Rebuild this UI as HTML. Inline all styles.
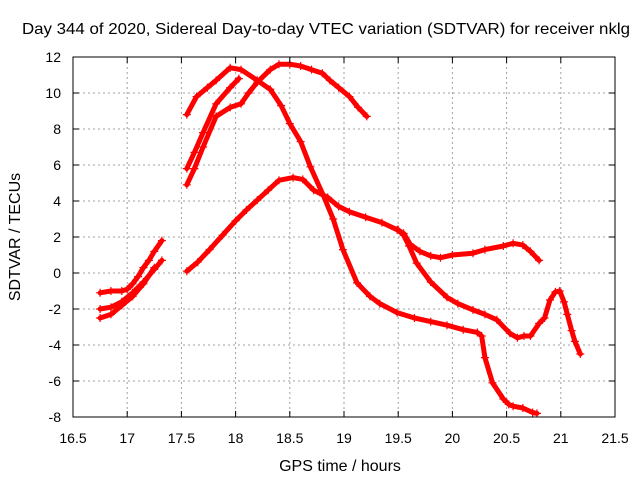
<!DOCTYPE html>
<html><head><meta charset="utf-8"><style>
body{margin:0;background:#fff;}
svg text{font-family:"Liberation Sans",sans-serif;fill:#000;}
</style></head><body>
<svg id="chart" width="640" height="480" xmlns="http://www.w3.org/2000/svg">
<rect width="640" height="480" fill="#fff"/>
<text x="22" y="34" font-size="16" textLength="608" lengthAdjust="spacingAndGlyphs">Day 344 of 2020, Sidereal Day-to-day VTEC variation (SDTVAR) for receiver nklg</text>
<text x="340" y="471" font-size="16" text-anchor="middle">GPS time / hours</text>
<text transform="translate(20,237) rotate(-90)" font-size="16" text-anchor="middle">SDTVAR / TECUs</text>
<g id="grid"></g><g id="series"></g><g id="axes"></g>
</svg>
<script>
const xTicks=[16.5,17,17.5,18,18.5,19,19.5,20,20.5,21,21.5];
const yTicks=[-8,-6,-4,-2,0,2,4,6,8,10,12];
const s1x=[17.55,17.65,17.76,17.88,18.0,18.1,18.2,18.3,18.4,18.53,18.62,18.72,18.85,18.95,19.05,19.2,19.35,19.49,19.55,19.61,19.7,19.8,19.89,20.0,20.19,20.3,20.47,20.56,20.65,20.72,20.8];
const s1y=[0.1,0.6,1.3,2.1,2.9,3.5,4.05,4.6,5.15,5.3,5.2,4.6,4.2,3.7,3.4,3.1,2.8,2.4,2.2,1.6,1.2,0.95,0.85,1.0,1.1,1.3,1.5,1.65,1.55,1.2,0.7];
const s2x=[17.55,17.64,17.74,17.82,17.95,18.05,18.2,18.32,18.42,18.5,18.6,18.69,18.81,18.9,18.99,19.12,19.24,19.33,19.49,19.65,19.8,19.95,20.1,20.23,20.27,20.3,20.37,20.47,20.52,20.56,20.65,20.74,20.78];
const s2y=[8.8,9.8,10.3,10.7,11.4,11.3,10.7,10.2,9.3,8.3,7.3,5.9,4.3,3.0,1.3,-0.55,-1.3,-1.7,-2.2,-2.5,-2.7,-2.9,-3.15,-3.3,-3.5,-4.7,-6.1,-7.0,-7.3,-7.4,-7.5,-7.75,-7.8];
const s3x=[17.55,17.62,17.7,17.82,17.95,18.05,18.12,18.2,18.32,18.4,18.5,18.6,18.7,18.8,18.87,18.95,19.05,19.13,19.21];
const s3y=[4.9,5.8,7.0,8.7,9.2,9.4,10.0,10.6,11.3,11.6,11.6,11.5,11.3,11.1,10.7,10.3,9.8,9.2,8.7];
const s4x=[17.55,17.62,17.7,17.82,17.95,18.03];
const s4y=[5.8,6.7,7.8,9.4,10.3,10.8];
const s5x=[19.5,19.55,19.6,19.67,19.8,19.95,20.05,20.19,20.3,20.41,20.53,20.6,20.66,20.72,20.8,20.85,20.9,20.95,20.99,21.03,21.06,21.1,21.13,21.18];
const s5y=[2.4,2.1,1.5,0.55,-0.5,-1.35,-1.7,-2.05,-2.3,-2.6,-3.35,-3.6,-3.5,-3.5,-2.8,-2.5,-1.5,-1.05,-1.0,-1.6,-2.3,-3.2,-3.8,-4.5];
const s6x=[16.75,16.85,16.95,17.0,17.05,17.1,17.15,17.2,17.25,17.32];
const s6y=[-1.1,-1.0,-1.0,-0.9,-0.6,-0.2,0.3,0.7,1.2,1.8];
const s7x=[16.75,16.85,16.95,17.05,17.15,17.25,17.32];
const s7y=[-2.0,-1.9,-1.6,-1.1,-0.5,0.2,0.7];
const s8x=[16.75,16.85,16.95,17.05,17.15,17.25];
const s8y=[-2.5,-2.3,-1.8,-1.3,-0.6,0.3];

const X0=73,X1=615,Y0=417,Y1=57;
const sx=v=>X0+(v-16.5)/(21.5-16.5)*(X1-X0);
const sy=v=>Y0-(v+8)/20*(Y0-Y1);
const NS='http://www.w3.org/2000/svg';
function mk(tag,attrs,parent){const e=document.createElementNS(NS,tag);for(const k in attrs)e.setAttribute(k,attrs[k]);parent.appendChild(e);return e;}
const grid=document.getElementById('grid'),axes=document.getElementById('axes'),ser=document.getElementById('series');
xTicks.forEach(t=>{
  const x=sx(t);
  if(t>16.5&&t<21.5){const g=mk('line',{x1:x,x2:x,y1:Y1,y2:Y0,stroke:'#a0a0a0','stroke-dasharray':'2,3'},grid);
  
  }
  mk('line',{x1:x,x2:x,y1:Y0,y2:Y0-6,stroke:'#000'},axes);
  mk('line',{x1:x,x2:x,y1:Y1,y2:Y1+6,stroke:'#000'},axes);
  const tx=mk('text',{x:x,y:443,'font-size':14,'text-anchor':'middle'},axes);tx.textContent=t;
  
  
});
yTicks.forEach(t=>{
  const y=sy(t);
  if(t>-8&&t<12){const g=mk('line',{x1:X0,x2:X1,y1:y,y2:y,stroke:'#a0a0a0','stroke-dasharray':'2,3'},grid);
  
  }
  mk('line',{x1:X0,x2:X0+6,y1:y,y2:y,stroke:'#000'},axes);
  mk('line',{x1:X1,x2:X1-6,y1:y,y2:y,stroke:'#000'},axes);
  const tx=mk('text',{x:61,y:y+5,'font-size':14,'text-anchor':'end'},axes);tx.textContent=t;
  
  
});
const frame=mk('rect',{x:X0,y:Y1,width:X1-X0,height:Y0-Y1,fill:'none',stroke:'#000'},axes);


const all=[[s1x,s1y],[s2x,s2y],[s3x,s3y],[s4x,s4y],[s5x,s5y],[s6x,s6y],[s7x,s7y],[s8x,s8y]];
all.forEach((s,i)=>{
  const g=mk('g',{},ser);
  
  
  const pts=s[0].map((x,j)=>sx(x)+','+sy(s[1][j])).join(' ');
  mk('polyline',{points:pts,fill:'none',stroke:'#f00','stroke-width':5,'stroke-linejoin':'round','stroke-linecap':'round'},g);
  s[0].forEach((x,j)=>{
    const px=sx(x),py=sy(s[1][j]);
    const m=mk('path',{d:`M${px-4},${py}H${px+4}M${px},${py-4}V${py+4}`,stroke:'#f00','stroke-width':1.2},g);
    
    
  });
});
</script>
</body></html>
